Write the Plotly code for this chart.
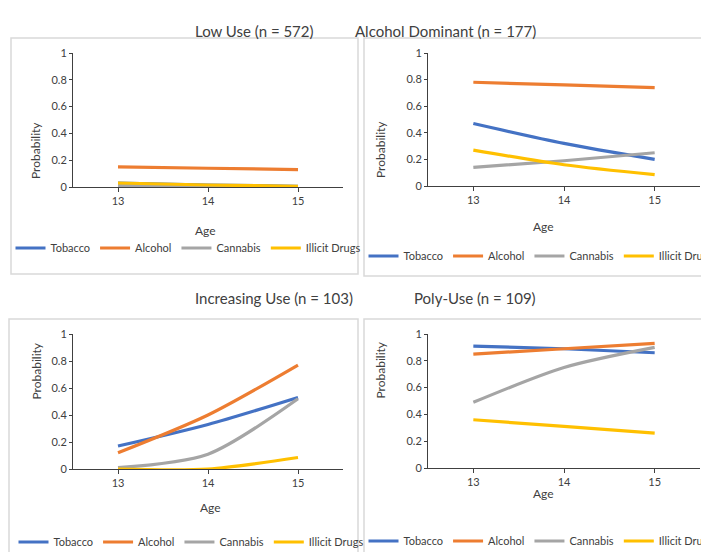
import plotly.graph_objects as go

ages = [13, 14, 15]
series = ["Tobacco", "Alcohol", "Cannabis", "Illicit Drugs"]
colors = ["#4472C4", "#ED7D31", "#A5A5A5", "#FFC000"]
titles = ["Low Use (n = 572)", "Alcohol Dominant (n = 177)", "Increasing Use (n = 103)", "Poly-Use (n = 109)"]

low_use = [[0.03, 0.015, 0.005], [0.15, 0.14, 0.13], [0.01, 0.005, 0.0], [0.03, 0.015, 0.005]]
alcohol_dominant = [[0.47, 0.32, 0.20], [0.78, 0.76, 0.74], [0.14, 0.19, 0.25], [0.27, 0.16, 0.085]]
increasing_use = [[0.17, 0.33, 0.53], [0.12, 0.40, 0.77], [0.01, 0.11, 0.52], [0.0, 0.0, 0.085]]
poly_use = [[0.91, 0.89, 0.86], [0.85, 0.89, 0.93], [0.49, 0.75, 0.90], [0.36, 0.31, 0.26]]
panels = [low_use, alcohol_dominant, increasing_use, poly_use]

W, H = 709, 552
def px(x): return x / W
def py(y): return 1 - y / H

# plot areas in pixels: (x0, x1, ytop, ybottom)
areas = [(65, 335, 45, 179), (420, 692, 45, 178), (65, 335, 326, 461), (420, 692, 326, 460)]
boxes = [(3, 350, 30, 266), (356, 706, 30, 268), (1, 350, 311, 550), (356, 706, 311, 550)]
title_pos = [(185, 12), (530, 12), (185, 290), (530, 290)]
age_pos = [(185, 222), (548, 218), (190, 509), (548, 495)]
leg_pos = [(180, 240), (533, 248), (183, 534), (533, 533)]
ylab_x = [18, 372, 18, 372]

fig = go.Figure()
lay = {}
ann = []
shapes = []
for i, data in enumerate(panels):
    n = "" if i == 0 else str(i + 1)
    leg = "legend" + n
    for s, vals, c in zip(series, data, colors):
        fig.add_trace(go.Scatter(x=ages, y=vals, mode="lines", name=s,
                                 line=dict(color=c, width=3.2, shape="spline", smoothing=0.8),
                                 xaxis="x" + n, yaxis="y" + n, legend=leg))
    x0, x1, yt, yb = areas[i]
    lay["xaxis" + n] = dict(domain=[px(x0), px(x1)], range=[12.5, 15.5], tickvals=ages,
                            showgrid=False, zeroline=False, showline=True, linecolor="#404040",
                            ticks="outside", ticklen=4, tickcolor="#404040",
                            tickfont=dict(size=11, color="#404040"), anchor="y" + n, fixedrange=True)
    lay["yaxis" + n] = dict(domain=[py(yb), py(yt)], range=[0, 1], tickvals=[0, 0.2, 0.4, 0.6, 0.8, 1],
                            ticktext=["0", "0.2", "0.4", "0.6", "0.8", "1"],
                            showgrid=False, zeroline=False, showline=True, linecolor="#404040",
                            ticks="outside", ticklen=3, tickcolor="#404040",
                            tickfont=dict(size=11, color="#404040"), anchor="x" + n)
    lx, ly = leg_pos[i]
    lay[leg] = dict(orientation="h", x=px(lx), y=py(ly), xanchor="center", yanchor="middle",
                    font=dict(size=11, color="#404040"), bgcolor="rgba(0,0,0,0)",
                    itemwidth=30, tracegroupgap=0)
    tx, ty = title_pos[i]
    ann.append(dict(text=titles[i], x=px(tx), y=py(ty), xref="paper", yref="paper",
                    showarrow=False, font=dict(size=15, color="#404040")))
    ax, ay = age_pos[i]
    ann.append(dict(text="Age", x=px(ax), y=py(ay), xref="paper", yref="paper",
                    showarrow=False, font=dict(size=12, color="#404040")))
    ann.append(dict(text="Probability", x=px(ylab_x[i]), y=py((yt + yb) / 2), xref="paper", yref="paper",
                    showarrow=False, textangle=-90, font=dict(size=12, color="#404040")))
    bx0, bx1, by0, by1 = boxes[i]
    shapes.append(dict(type="rect", xref="paper", yref="paper", x0=px(bx0), x1=px(bx1),
                       y0=py(by1), y1=py(by0), line=dict(color="#D9D9D9", width=1.5)))

fig.update_layout(width=W, height=H, margin=dict(l=0, r=0, t=0, b=0, autoexpand=False),
                  paper_bgcolor="white", plot_bgcolor="white",
                  font=dict(family="Lato"), annotations=ann, shapes=shapes, **lay)
fig.write_html("out.html")
